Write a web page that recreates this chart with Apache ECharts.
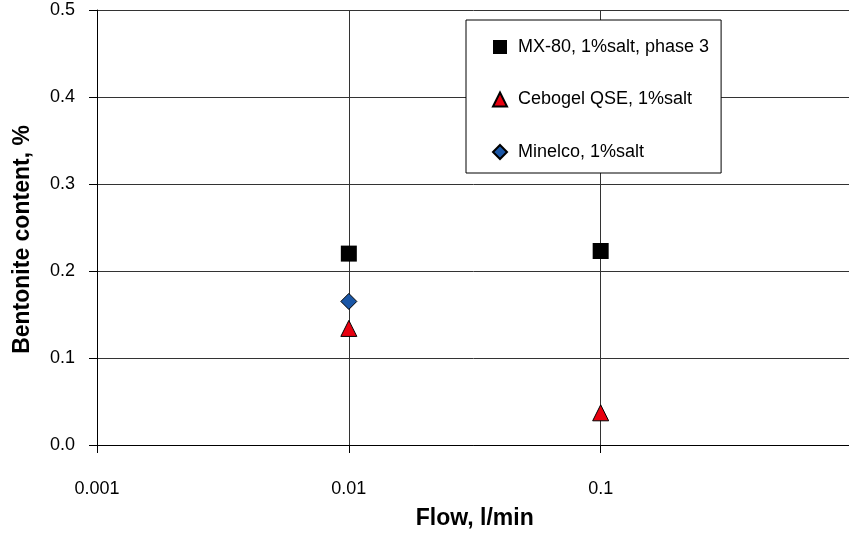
<!DOCTYPE html>
<html>
<head>
<meta charset="utf-8">
<script src="https://cdn.jsdelivr.net/npm/echarts@6/dist/echarts.min.js"></script>
<style>
  html, body { margin: 0; padding: 0; background: #fff; }
  #chart { width: 849px; height: 533px; }
</style>
</head>
<body>
<div id="chart"></div>
<script>
// Bentonite content measured at different flow rates
const mx80Flow = [0.01, 0.1];
const mx80Content = [0.220, 0.223];
const cebogelFlow = [0.01, 0.1];
const cebogelContent = [0.134, 0.037];
const minelcoFlow = [0.01];
const minelcoContent = [0.165];

const seriesNames = ['MX-80, 1%salt, phase 3', 'Cebogel QSE, 1%salt', 'Minelco, 1%salt'];
const xTickLabels = { '0.001': '0.001', '0.01': '0.01', '0.1': '0.1' };

const FONT = '"Liberation Sans", Arial, sans-serif';

function pairs(xs, ys) {
  return xs.map((x, i) => [x, ys[i]]);
}

const chart = echarts.init(document.getElementById('chart'), null, { renderer: 'canvas' });

chart.setOption({
  animation: false,
  backgroundColor: '#ffffff',
  textStyle: { fontFamily: FONT },
  grid: {
    left: 97, top: 10, width: 755.5, height: 435,
    containLabel: false,
    outerBoundsMode: 'none'
  },
  xAxis: {
    type: 'log',
    logBase: 10,
    min: 0.001,
    max: 1,
    name: 'Flow, l/min',
    nameLocation: 'middle',
    nameGap: 62,
    nameTextStyle: { fontFamily: FONT, fontSize: 23, fontWeight: 'bold', color: '#000' },
    axisLine: { show: true, onZero: false, lineStyle: { color: '#000', width: 1 } },
    axisTick: { show: true, inside: false, length: 8, lineStyle: { color: '#000' } },
    axisLabel: {
      margin: 35,
      fontFamily: FONT,
      fontSize: 18,
      color: '#000',
      formatter: function (v) {
        const key = String(+v.toPrecision(3));
        return xTickLabels[key] || '';
      }
    },
    splitLine: { show: true, lineStyle: { color: '#333', width: 1 } },
    minorTick: { show: false }
  },
  yAxis: {
    type: 'value',
    min: 0,
    max: 0.5,
    interval: 0.1,
    name: 'Bentonite content, %',
    nameLocation: 'middle',
    nameGap: 63,
    nameTextStyle: {
      fontFamily: FONT, fontSize: 23, fontWeight: 'bold', color: '#000',
      padding: [0, 24, 0, 0]
    },
    axisLine: { show: true, lineStyle: { color: '#000', width: 1 } },
    axisTick: { show: true, inside: false, length: 8, lineStyle: { color: '#000' } },
    axisLabel: {
      margin: 22,
      fontFamily: FONT,
      fontSize: 18,
      color: '#000',
      formatter: v => v.toFixed(1)
    },
    splitLine: { show: true, lineStyle: { color: '#333', width: 1 } }
  },
  legend: {
    orient: 'vertical',
    left: 466,
    top: 20,
    padding: [18, 12, 12, 26],
    itemGap: 34.5,
    itemWidth: 14,
    itemHeight: 14,
    backgroundColor: '#fff',
    borderColor: '#000',
    borderWidth: 1,
    borderRadius: 0,
    textStyle: { fontFamily: FONT, fontSize: 18, lineHeight: 18, color: '#000', padding: [0, 0, 0, 6] },
    data: seriesNames
  },
  series: [
    {
      name: seriesNames[0],
      type: 'scatter',
      symbol: 'rect',
      symbolSize: 16,
      itemStyle: { color: '#000', borderColor: '#000', borderWidth: 0, opacity: 1 },
      data: pairs(mx80Flow, mx80Content),
      z: 3
    },
    {
      name: seriesNames[1],
      type: 'scatter',
      symbol: 'triangle',
      symbolSize: [16, 16],
      itemStyle: { color: '#e8000f', borderColor: '#000', borderWidth: 1, opacity: 1 },
      data: pairs(cebogelFlow, cebogelContent),
      z: 3
    },
    {
      name: seriesNames[2],
      type: 'scatter',
      symbol: 'diamond',
      symbolSize: 16,
      itemStyle: { color: '#1a56a6', borderColor: '#000', borderWidth: 1, opacity: 1 },
      data: pairs(minelcoFlow, minelcoContent),
      z: 3
    }
  ]
});
</script>
</body>
</html>
